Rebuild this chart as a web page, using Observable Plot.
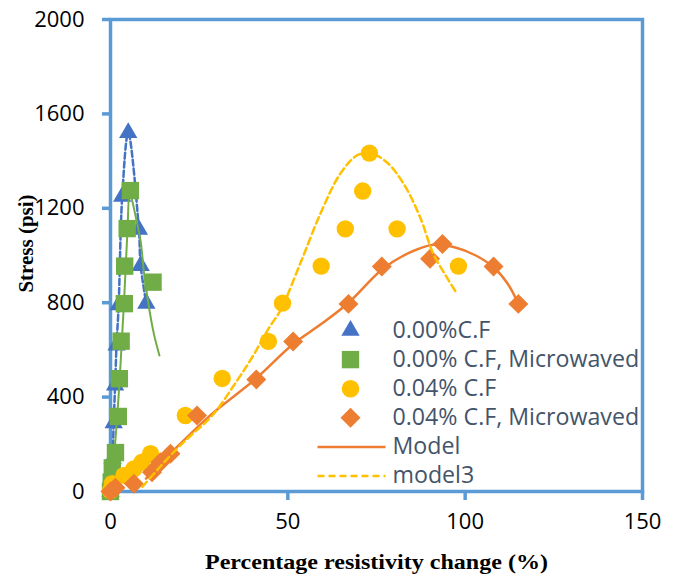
<!DOCTYPE html>
<html>
<head>
<meta charset="utf-8">
<script src="https://cdn.jsdelivr.net/npm/d3@7"></script>
<script src="https://cdn.jsdelivr.net/npm/@observablehq/plot@0.6"></script>
<style>
  html, body { margin: 0; padding: 0; background: #fff; }
  #chart { width: 678px; height: 579px; }
</style>
</head>
<body>
<div id="chart"></div>
<script>
// ---- Data ----
const xTicks = [0, 50, 100, 150];
const yTicks = [0, 400, 800, 1200, 1600, 2000];

// 0.00%C.F (blue triangles, dashed smooth line)
const cf0X = [0, 0.3, 0.6, 0.9, 1.3, 1.7, 2.3, 3.3, 5.0, 8.0, 8.5, 10.1];
const cf0Y = [0, 60, 140, 290, 450, 620, 790, 1250, 1520, 1110, 957, 797];

// 0.00% C.F, Microwaved (green squares)
const cf0mX = [0, 0.2, 0.5, 1.4, 2.2, 2.5, 3.0, 3.9, 4.0, 4.7, 5.6, 12.0];
const cf0mY = [0, 40, 100, 165, 318, 478, 637, 796, 955, 1114, 1275, 887];
// green trend line
const cf0mLineX = [0, 1.0, 1.9, 2.6, 3.2, 3.8, 4.3, 4.8, 5.4, 6.1, 7.3, 8.5, 9.5, 10.8, 12.2, 13.8];
const cf0mLineY = [0, 150, 320, 480, 640, 800, 955, 1110, 1265, 1233, 1150, 1060, 920, 785, 670, 576];

// 0.04% C.F (yellow circles)
const cf4X = [0, 0.5, 3.8, 6.6, 8.9, 11.3, 21.1, 31.5, 44.5, 48.5, 59.4, 66.2, 71.1, 73.0, 80.8, 98.1];
const cf4Y = [4, 33, 68, 96, 124, 160, 322, 479, 636, 798, 955, 1113, 1273, 1434, 1113, 955];

// 0.04% C.F, Microwaved (orange diamonds)
const cf4mX = [0, 1.4, 6.6, 11.7, 14.1, 16.9, 24.4, 41.1, 51.5, 67.1, 76.5, 90.1, 93.6, 108, 115];
const cf4mY = [0, 16, 33, 82, 124, 160, 322, 475, 636, 795, 953, 986, 1049, 953, 795];

// Model (orange solid line)
const modelX = [10, 19.2, 28.6, 41, 51.5, 59, 67.1, 76.5, 84, 91, 97, 103, 108, 112, 115];
const modelY = [55, 195, 329, 478, 625, 705, 800, 940, 1010, 1046, 1035, 1000, 950, 880, 795];

// model3 (yellow dashed line)
const model3X = [9, 14, 18.8, 22.5, 28.6, 35.7, 40, 44.8, 47.9, 53.5, 59.2, 64.8, 69.5, 73.2, 77.9, 82.6, 87.3, 91, 94.8, 97.7];
const model3Y = [20, 105, 182, 235, 320, 470, 570, 696, 767, 966, 1178, 1347, 1424, 1434, 1395, 1305, 1162, 1008, 908, 838];

const legendLabels = ["0.00%C.F", "0.00% C.F, Microwaved", "0.04% C.F", "0.04% C.F, Microwaved", "Model", "model3"];

// ---- build tables ----
const zip = (xs, ys) => xs.map((x, i) => ({x, y: ys[i]}));
const cf0 = zip(cf0X, cf0Y);
const cf0m = zip(cf0mX, cf0mY);
const cf0mLine = zip(cf0mLineX, cf0mLineY);
const cf4 = zip(cf4X, cf4Y);
const cf4m = zip(cf4mX, cf4mY);
const model = zip(modelX, modelY);
const model3 = zip(model3X, model3Y);

const BLUE = "#4472C4", GREEN = "#70AD47", YELLOW = "#FFC000", ORANGE = "#ED7D31", AXIS = "#5B9BD5";
const LEG = "#44546A";
const SANS = "'Open Sans', Lato, sans-serif";
const SERIF = "'Liberation Serif', 'DejaVu Serif', serif";

// legend helpers
const lineSym = {draw(ctx) { ctx.moveTo(-34, 0); ctx.lineTo(34, 0); }};
const legendMarks = [];
const legendSpec = [
  {kind: "dot", symbol: "triangle", fill: BLUE, r: 6.8},
  {kind: "dot", symbol: "square", fill: GREEN, r: 9.8},
  {kind: "dot", symbol: "circle", fill: YELLOW, r: 8.8},
  {kind: "dot", symbol: "diamond2", fill: ORANGE, r: 9.0},
  {kind: "line", stroke: ORANGE, dash: null},
  {kind: "line", stroke: YELLOW, dash: "7,4"}
];
legendSpec.forEach((s, i) => {
  const dy = 311 + i * 29.1;
  if (s.kind === "dot") {
    legendMarks.push(Plot.dot([legendLabels[i]], {frameAnchor: "top-left", dx: 240, dy, symbol: s.symbol, fill: s.fill, r: s.r, stroke: "none"}));
  } else {
    legendMarks.push(Plot.dot([legendLabels[i]], {frameAnchor: "top-left", dx: 241, dy, symbol: lineSym, fill: "none", stroke: s.stroke, strokeWidth: 2.5, strokeDasharray: s.dash, r: 5}));
  }
  legendMarks.push(Plot.text([legendLabels[i]], {frameAnchor: "top-left", dx: 282, dy, text: d => d, textAnchor: "start", lineAnchor: "middle", fill: LEG, fontSize: 23.2, fontFamily: SANS}));
});

const chart = Plot.plot({
  width: 678,
  height: 579,
  marginLeft: 110,
  marginRight: 36,
  marginTop: 19,
  marginBottom: 88,
  style: {background: "#fff", fontFamily: SANS},
  x: {domain: [0, 150]},
  y: {domain: [0, 2000]},
  marks: [
    Plot.frame({stroke: AXIS, strokeWidth: 3.5}),
    Plot.axisX({ticks: xTicks, tickSize: 9, tickPadding: 13, stroke: AXIS, strokeWidth: 3.5, color: "#000", fontSize: 22, fontFamily: SANS, label: null, tickFormat: d => String(d)}),
    Plot.axisY({ticks: yTicks, tickSize: 8, tickPadding: 18, stroke: AXIS, strokeWidth: 3.5, color: "#000", fontSize: 22, fontFamily: SANS, label: null, tickFormat: d => String(d)}),

    Plot.dot(cf0, {x: "x", y: "y", symbol: "triangle", fill: BLUE, r: 6.8}),
    Plot.line(cf0, {x: "x", y: "y", stroke: BLUE, strokeWidth: 2.5, strokeDasharray: "6,3", curve: "catmull-rom"}),
    Plot.dot(cf0m, {x: "x", y: "y", symbol: "square", fill: GREEN, r: 9.8}),
    Plot.line(cf0mLine, {x: "x", y: "y", stroke: GREEN, strokeWidth: 2, curve: "catmull-rom"}),
    Plot.dot(cf4, {x: "x", y: "y", symbol: "circle", fill: YELLOW, r: 8.7}),
    Plot.dot(cf4m, {x: "x", y: "y", symbol: "diamond2", fill: ORANGE, r: 9.0}),
    Plot.line(model, {x: "x", y: "y", stroke: ORANGE, strokeWidth: 2.5, curve: "catmull-rom"}),
    Plot.line(model3, {x: "x", y: "y", stroke: YELLOW, strokeWidth: 2.5, strokeDasharray: "7,4", curve: "catmull-rom"}),

    Plot.text(["Stress (psi)"], {frameAnchor: "left", dx: -84, dy: -12, rotate: -90, textAnchor: "middle", lineAnchor: "middle", fontFamily: SERIF, fontWeight: "bold", fontSize: 21, fill: "#000"}),
    Plot.text(["Percentage resistivity change (%)"], {frameAnchor: "bottom", dy: 70, textAnchor: "middle", lineAnchor: "middle", fontFamily: SERIF, fontWeight: "bold", fontSize: 22, fill: "#000", className: "xtitle"}),
    ...legendMarks
  ]
});
document.getElementById("chart").appendChild(chart);
// stretch x title horizontally as in the reference
d3.select(chart).selectAll(".xtitle text").attr("textLength", 343).attr("lengthAdjust", "spacingAndGlyphs");
</script>
</body>
</html>
